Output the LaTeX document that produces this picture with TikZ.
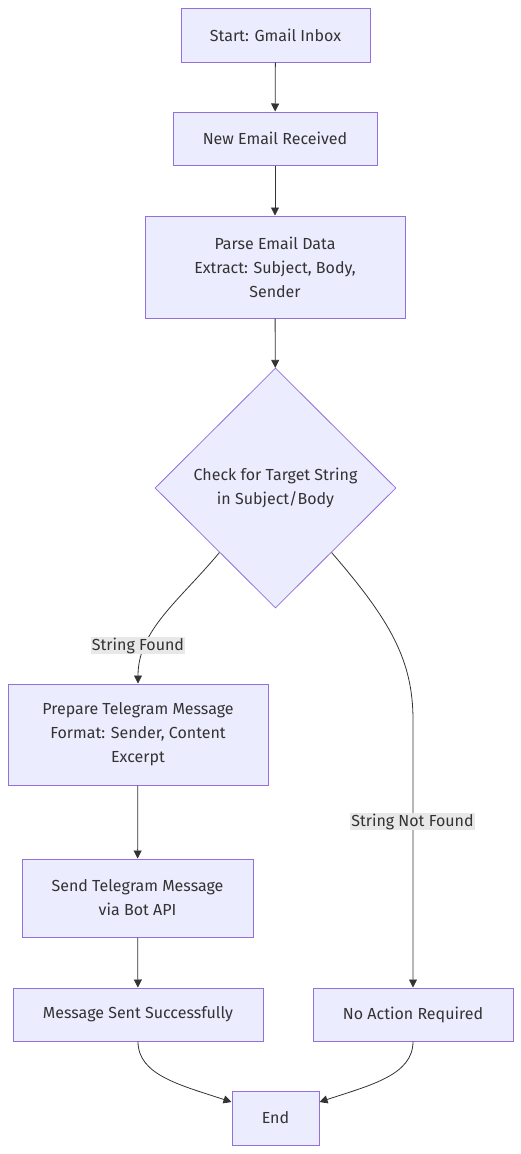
\documentclass[tikz,border=0pt]{standalone}
\usepackage{fontspec}
\setmainfont{Fira Sans}
\usepackage{tikz}
\usetikzlibrary{arrows.meta,
	calc,
	shapes}
\definecolor{lavender}{HTML}{ECECFF}
\definecolor{violet}{HTML}{9370DB}
\definecolor{ink}{HTML}{333333}
\definecolor{labelgrey}{HTML}{E8E8E8}

\begin{document}
\begin{tikzpicture}[x=1pt,y=-1pt]
      \tikzstyle{box}=[rectangle,draw=violet,fill=lavender,line width=1pt,inner sep=0pt,align=center,font=\fontsize{16}{24}\selectfont,text=ink]
      \tikzstyle{decision}=[diamond,draw=violet,fill=lavender,line width=0.8pt,inner sep=0pt,align=center,font=\fontsize{16}{24}\selectfont,text=ink,minimum width=241pt,minimum height=240pt]
      \tikzstyle{flow}=[draw=ink,line width=0.8pt,-{Triangle[length=8pt,width=8pt]}]
      \tikzstyle{tag}=[fill=labelgrey,inner sep=1pt,font=\fontsize{16}{20}\selectfont,text=ink]
      \useasboundingbox (0,0) rectangle (521,1154);
      \node[box,minimum width=189pt,minimum height=54pt] (start) at (275.5,35) {Start: Gmail Inbox};
      \node[box,minimum width=204pt,minimum height=53pt] (new) at (275,138.5) {New Email Received};
      \node[box,minimum width=260pt,minimum height=102pt] (parse) at (275,267) {Parse Email Data\\Extract: Subject, Body,\\Sender};
      \node[decision] (check) at (275.5,488) {Check for Target String\\in Subject/Body};
      \node[box,minimum width=260pt,minimum height=101pt] (prep) at (138,734.5) {Prepare Telegram Message\\Format: Sender, Content\\Excerpt};
      \node[box,minimum width=231pt,minimum height=78pt] (send) at (137.5,898) {Send Telegram Message\\via Bot API};
      \node[box,minimum width=250pt,minimum height=53pt] (sent) at (138,1014.5) {Message Sent Successfully};
      \node[box,minimum width=200pt,minimum height=53pt] (none) at (413,1014.5) {No Action Required};
      \node[box,minimum width=87pt,minimum height=54pt] (end) at (275.5,1118) {End};
      \draw[flow] (start) -- (new);
      \draw[flow] (new) -- (parse);
      \draw[flow] (parse) -- (check);
      \draw[flow] (check.-131) .. controls (180,600) and (138,630) .. (prep.north);
      \draw[flow] (check.-49) .. controls (390,620) and (413,660) .. (413,720) -- (none.north);
      \draw[flow] (prep) -- (send);
      \draw[flow] (send) -- (sent);
      \draw[flow] (sent.south) .. controls (138,1075) and (180,1085) .. (end.west |- 0,1102);
      \draw[flow] (none.south) .. controls (413,1075) and (371,1085) .. (end.east |- 0,1102);
      \node[tag] (found) at (138,645.5) {String Found};
      \node[tag] (notfound) at (412.5,821.5) {String Not Found};
    \end{tikzpicture}
\end{document}
